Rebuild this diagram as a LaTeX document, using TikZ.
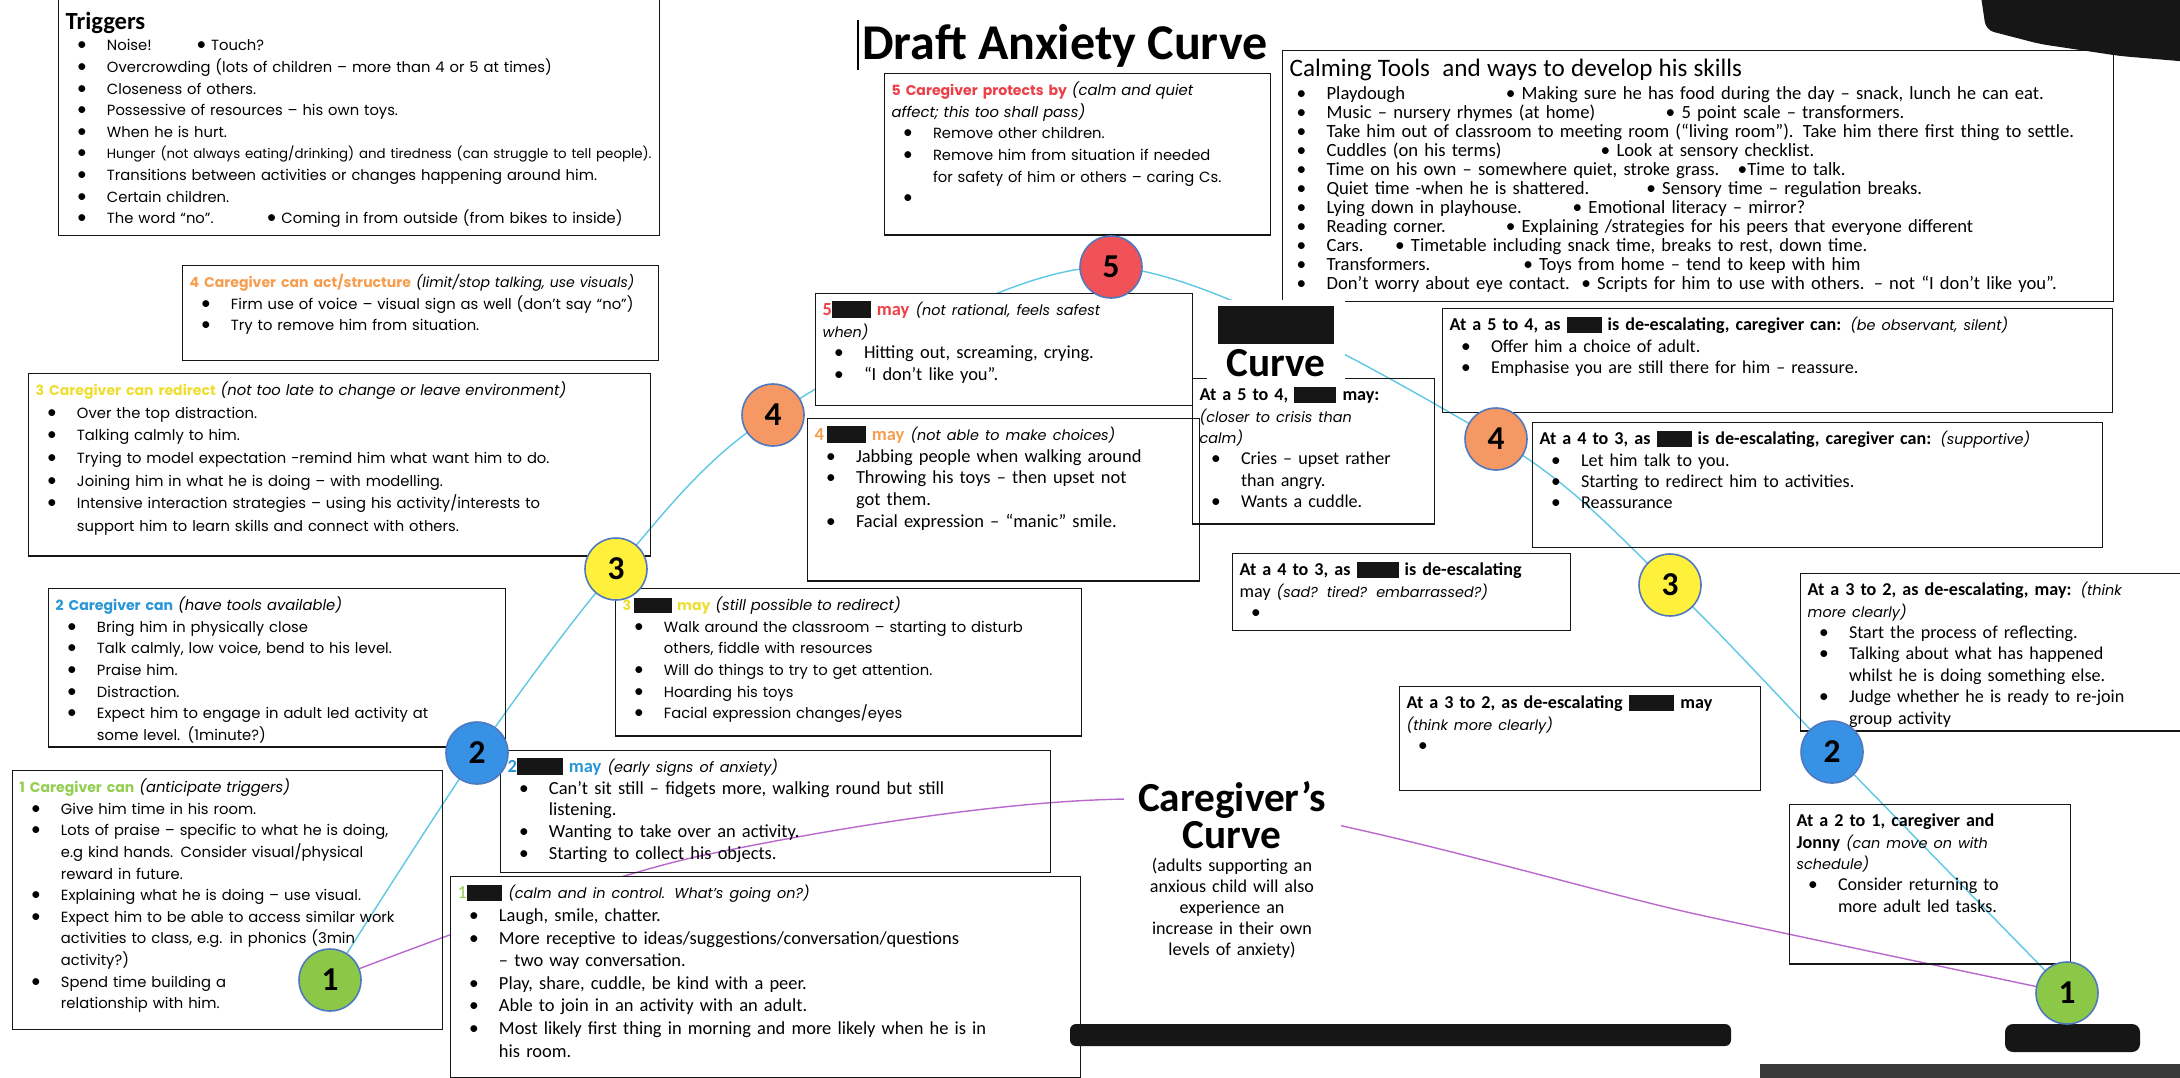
\documentclass[tikz,border=0pt]{standalone}
\usepackage{fontspec}
\usetikzlibrary{backgrounds}
\setmainfont{Carlito}
\newfontfamily\gothic{Poppins}
\newfontfamily\calib{Carlito}
\hyphenpenalty=10000
\exhyphenpenalty=10000

\definecolor{cgred}{RGB}{236,64,72}
\definecolor{cgorange}{RGB}{246,158,80}
\definecolor{cgyellow}{RGB}{238,222,50}
\definecolor{cgblue}{RGB}{40,150,215}
\definecolor{cggreen}{RGB}{146,206,80}
\definecolor{fillred}{RGB}{240,82,88}
\definecolor{fillorange}{RGB}{245,152,100}
\definecolor{fillyellow}{RGB}{255,240,60}
\definecolor{fillblue}{RGB}{55,145,228}
\definecolor{fillgreen}{RGB}{140,200,72}
\definecolor{ringblue}{RGB}{80,120,190}
\definecolor{curvecyan}{RGB}{95,200,228}
\definecolor{curvepurple}{RGB}{185,105,205}
\definecolor{inkblack}{RGB}{22,22,22}

\newlength\px
\setlength\px{0.02cm}
\newlength\bulletpos
\setlength\bulletpos{6.5pt}
\newlength\textpos
\setlength\textpos{23.5pt}
\newcommand\blot[1]{{\color{inkblack}\rule[-0.3ex]{#1}{1.9ex}}}
\newcommand\note[1]{{\gothic\itshape\fontsize{8.2}{12.3}\selectfont #1}}
\newcommand\ghead[2]{{\fontsize{8}{12.3}\selectfont{\color{#1}\bfseries #2}}}
\newcommand\bul{{\calib\fontsize{11}{11}\selectfont\textbullet}}
\newcommand\itm{\par\hangindent=\textpos\hangafter=1\noindent
  \hspace*{\bulletpos}\makebox[\dimexpr\textpos-\bulletpos\relax][l]{\bul}}

\begin{document}
\begin{tikzpicture}[x=0.02cm, y=-0.02cm,
    panel/.style={draw=inkblack, line width=0.8pt, anchor=north west, align=left,
      inner xsep=7\px, inner ysep=4pt, text height=8.5pt,
      font=\calib\fontsize{10.5}{12.3}\selectfont},
    gpanel/.style={panel, font=\gothic\fontsize{8.4}{12.3}\selectfont},
    rpanel/.style={panel, font=\calib\fontsize{10.3}{12.2}\selectfont},
    stage/.style={circle, draw=ringblue, line width=0.9pt, minimum size=62\px,
      inner sep=0pt, font=\calib\bfseries\fontsize{19}{19}\selectfont},
    heading/.style={fill=white, align=center, anchor=north,
      font=\calib\bfseries\fontsize{23.5}{22}\selectfont},
    anxline/.style={curvecyan, line width=0.8pt},
    careline/.style={curvepurple, line width=0.8pt}
]
\useasboundingbox (0,0) rectangle (2180,1078);

% title
\node[font=\calib\bfseries\fontsize{28.5}{28.5}\selectfont, anchor=west, inner sep=0pt] (title) at (862,46) {Draft Anxiety Curve};
\draw[line width=0.6pt] (858,20) -- (858,70);

% triggers
\node[gpanel, text width=587\px, text depth=113.5pt, text height=14pt] (trig) at (58,-3) {%
  {\calib\bfseries\fontsize{14}{14}\selectfont Triggers}
  \itm \makebox[51pt][l]{Noise!}\bul\ Touch?
  \itm Overcrowding (lots of children – more than 4 or 5 at times)
  \itm Closeness of others.
  \itm Possessive of resources – his own toys.
  \itm When he is hurt.
  \itm \mbox{\fontsize{7.6}{12.3}\selectfont Hunger (not always eating/drinking) and tiredness (can struggle to tell people).}
  \itm Transitions between activities or changes happening around him.
  \itm Certain children.
  \itm \makebox[91pt][l]{The word “no”.}\bul\ Coming in from outside (from bikes to inside)\par};

% caregiver side
\node[gpanel, text width=372\px, text depth=75.3pt] (protect) at (884,73) {%
  \ghead{cgred}{5 Caregiver protects by} {\itshape (calm and quiet\newline affect; this too shall pass)}
  \itm Remove other children.
  \itm Remove him from situation if needed\newline for safety of him or others – caring Cs.
  \itm \mbox{}\par};

\node[gpanel, text width=462\px, text depth=37.4pt] (act) at (182,265) {%
  \mbox{\ghead{cgorange}{4 Caregiver can act/structure} {\fontsize{8}{12.3}\selectfont\itshape (limit/stop talking, use visuals)}}
  \itm Firm use of voice – visual sign as well (don’t say “no”)
  \itm Try to remove him from situation.\par};

\node[gpanel, text width=608\px, text depth=87.2pt, font=\gothic\fontsize{8.4}{12.9}\selectfont] (redir) at (28,373) {%
  \ghead{cgyellow}{3 Caregiver can redirect} {\itshape (not too late to change or leave environment)}
  \itm Over the top distraction.
  \itm Talking calmly to him.
  \itm Trying to model expectation -remind him what want him to do.
  \itm Joining him in what he is doing – with modelling.
  \itm Intensive interaction strategies – using his activity/interests to\newline support him to learn skills and connect with others.\par};

\node[gpanel, text width=443\px, text depth=73.6pt] (cg2) at (48,588) {%
  \ghead{cgblue}{2 Caregiver can} {\itshape (have tools available)}
  \itm Bring him in physically close
  \itm Talk calmly, low voice, bend to his level.
  \itm Praise him.
  \itm Distraction.
  \itm Expect him to engage in adult led activity at\newline some level. (1minute?)\par};

\node[gpanel, text width=416\px, text depth=130.9pt] (cg1) at (12,770) {%
  \ghead{cggreen}{1 Caregiver can} {\itshape (anticipate triggers)}
  \itm Give him time in his room.
  \itm Lots of praise – specific to what he is doing,\newline e.g kind hands. Consider visual/physical\newline reward in future.
  \itm Explaining what he is doing – use visual.
  \itm Expect him to be able to access similar work\newline activities to class, e.g. in phonics (3min\newline activity?)
  \itm Spend time building a\newline relationship with him.\par};

% calming tools
\node[panel, text width=817\px, text depth=124.1pt, text height=10.5pt,
      font=\calib\fontsize{10.6}{10.8}\selectfont] (calm) at (1282,50) {%
  \setlength\bulletpos{4pt}\setlength\textpos{21pt}%
  {\fontsize{14.3}{14.3}\selectfont Calming Tools\ \ and ways to develop his skills}\par\vspace{2.5pt}
  \itm \makebox[102pt][l]{Playdough}\bul\ Making sure he has food during the day – snack, lunch he can eat.
  \itm \makebox[193pt][l]{Music – nursery rhymes (at home)}\bul\ 5 point scale – transformers.
  \itm Take him out of classroom to meeting room (“living room”). Take him there first thing to settle.
  \itm \makebox[156pt][l]{Cuddles (on his terms)}\bul\ Look at sensory checklist.
  \itm \makebox[234pt][l]{Time on his own – somewhere quiet, stroke grass.}\bul Time to talk.
  \itm \makebox[182pt][l]{Quiet time -when he is shattered.}\bul\ Sensory time – regulation breaks.
  \itm \makebox[140pt][l]{Lying down in playhouse.}\bul\ Emotional literacy – mirror?
  \itm \makebox[102pt][l]{Reading corner.}\bul\ Explaining /strategies for his peers that everyone different
  \itm \makebox[39pt][l]{Cars.}\bul\ Timetable including snack time, breaks to rest, down time.
  \itm \makebox[112pt][l]{Transformers.}\bul\ Toys from home – tend to keep with him
  \itm \makebox[145pt][l]{Don’t worry about eye contact.}\bul\ Scripts for him to use with others. – not “I don’t like you”.\par};

% child side
\node[panel, fill=white, text width=363\px, text depth=47pt] (may5) at (815,293) {%
  {\color{cgred}\bfseries 5\blot{22pt} may} \note{(not rational, feels safest\newline when)}
  \itm Hitting out, screaming, crying.
  \itm “I don’t like you”.\par};

\node[panel, text width=378\px, text depth=75.9pt] (may4) at (807,418) {%
  {\color{cgorange}\bfseries 4\,\blot{22pt} may} \note{(not able to make choices)}
  \itm Jabbing people when walking around
  \itm Throwing his toys – then upset not\newline got them.
  \itm Facial expression – “manic” smile.\par};

\node[gpanel, text width=452\px, text depth=67.4pt] (may3) at (615,588) {%
  \ghead{cgyellow}{3\,\blot{22pt} may} {\itshape (still possible to redirect)}
  \itm Walk around the classroom – starting to disturb\newline others, fiddle with resources
  \itm Will do things to try to get attention.
  \itm Hoarding his toys
  \itm Facial expression changes/eyes\par};

\node[panel, text width=536\px, text depth=52.7pt] (may2) at (500,750) {%
  {\color{cgblue}\bfseries 2\blot{26pt} may} \note{(early signs of anxiety)}
  \itm Can’t sit still – fidgets more, walking round but still\newline listening.
  \itm Wanting to take over an activity.
  \itm Starting to collect his objects.\par};

\node[panel, fill=white, text width=616\px, text depth=98pt, font=\calib\fontsize{10.5}{12.9}\selectfont] (may1) at (450,876) {%
  {\color{cggreen}1}\blot{20pt} \note{(calm and in control. What’s going on?)}
  \itm Laugh, smile, chatter.
  \itm More receptive to ideas/suggestions/conversation/questions\newline – two way conversation.
  \itm Play, share, cuddle, be kind with a peer.
  \itm Able to join in an activity with an adult.
  \itm Most likely first thing in morning and more likely when he is in\newline his room.\par};

% de-escalating side
\node[rpanel, text width=228\px, text depth=66.3pt] (down54) at (1192,378) {%
  \textbf{At a 5 to 4, \blot{24pt} may:}\newline \note{(closer to crisis than\newline calm)}
  \itm Cries – upset rather\newline than angry.
  \itm Wants a cuddle.\par};

\node[rpanel, text width=656\px, text depth=42.5pt] (care54) at (1442,308) {%
  \textbf{At a 5 to 4, as \blot{20pt} is de-escalating, caregiver can:} \note{(be observant, silent)}
  \itm Offer him a choice of adult.
  \itm Emphasise you are still there for him – reassure.\par};

\node[rpanel, text width=556\px, text depth=54.4pt] (care43) at (1532,422) {%
  \textbf{At a 4 to 3, as \blot{20pt} is de-escalating, caregiver can:} \note{(supportive)}
  \itm Let him talk to you.
  \itm Starting to redirect him to activities.
  \itm Reassurance\par};

\node[rpanel, text width=324\px, text depth=27.2pt] (down43) at (1232,553) {%
  \textbf{At a 4 to 3, as \blot{24pt} is de-escalating}\newline may \note{(sad? tired? embarrassed?)}
  \itm \mbox{}\par};

\node[rpanel, text width=347\px, text depth=42.5pt] (down32) at (1399,686) {%
  \textbf{At a 3 to 2, as de-escalating \blot{26pt} may}\newline \note{(think more clearly)}
  \itm \mbox{}\par};

\node[rpanel, text width=371\px, text depth=73.1pt] (care32) at (1800,573) {%
  \textbf{At a 3 to 2, as de-escalating, may:} \note{(think\newline more clearly)}
  \itm Start the process of reflecting.
  \itm Talking about what has happened\newline whilst he is doing something else.
  \itm Judge whether he is ready to re-join\newline group activity\par};

\node[rpanel, text width=267\px, text depth=74.2pt] (care21) at (1789,804) {%
  \textbf{At a 2 to 1, caregiver and}\newline \textbf{Jonny} \note{(can move on with\newline schedule)}
  \itm Consider returning to\newline more adult led tasks.\par};

% curve titles
\node[heading, inner sep=3pt, text width=128\px] (childtitle) at (1276,300) {\blot{66pt}\\Curve};
\node[fill=white, inner sep=2pt, text width=210\px, align=center, anchor=north,
      font=\calib\fontsize{10.3}{12}\selectfont] (adulttitle) at (1232,778) {%
  {\bfseries\fontsize{23.5}{21}\selectfont Caregiver’s\\Curve\par}\vspace{1pt}
  (adults supporting an\\anxious child will also\\experience an\\increase in their own\\levels of anxiety)};

% blacked out parts
\fill[inkblack, rounded corners=8\px] (1980,-10) -- (2190,-10) -- (2190,62) -- (2120,56) -- (2040,44) -- (1986,30) -- cycle;
\fill[inkblack, rounded corners=6\px] (1070,1024) rectangle (1731,1046);
\fill[inkblack, rounded corners=8\px] (2005,1024) rectangle (2140,1052);
\fill[inkblack!85] (1760,1064) rectangle (2190,1085);

% stages
\node[stage, fill=fillred] (s5) at (1111,267) {5};
\node[stage, fill=fillorange] (s4L) at (773,415) {4};
\node[stage, fill=fillyellow] (s3L) at (616,569) {3};
\node[stage, fill=fillblue] (s2L) at (477,753) {2};
\node[stage, fill=fillgreen] (s1L) at (330,980) {1};
\node[stage, fill=fillorange] (s4R) at (1496,439) {4};
\node[stage, fill=fillyellow] (s3R) at (1670,585) {3};
\node[stage, fill=fillblue] (s2R) at (1832,752) {2};
\node[stage, fill=fillgreen] (s1R) at (2067,993) {1};

\coordinate (cga) at (700,856);
\coordinate (cgtop) at (1180,800);
\coordinate (cgb) at (1700,915);

\begin{pgfonlayer}{background}
  \fill[white] (0,0) rectangle (2180,1078);
  \draw[anxline] plot[smooth] coordinates {(s1L) (s2L) (s3L) (s4L) (s5) (s4R) (s3R) (s2R) (s1R)};
  \draw[careline] plot[smooth] coordinates {(s1L) (cga) (cgtop) (cgb) (s1R)};
\end{pgfonlayer}
\end{tikzpicture}
\end{document}
